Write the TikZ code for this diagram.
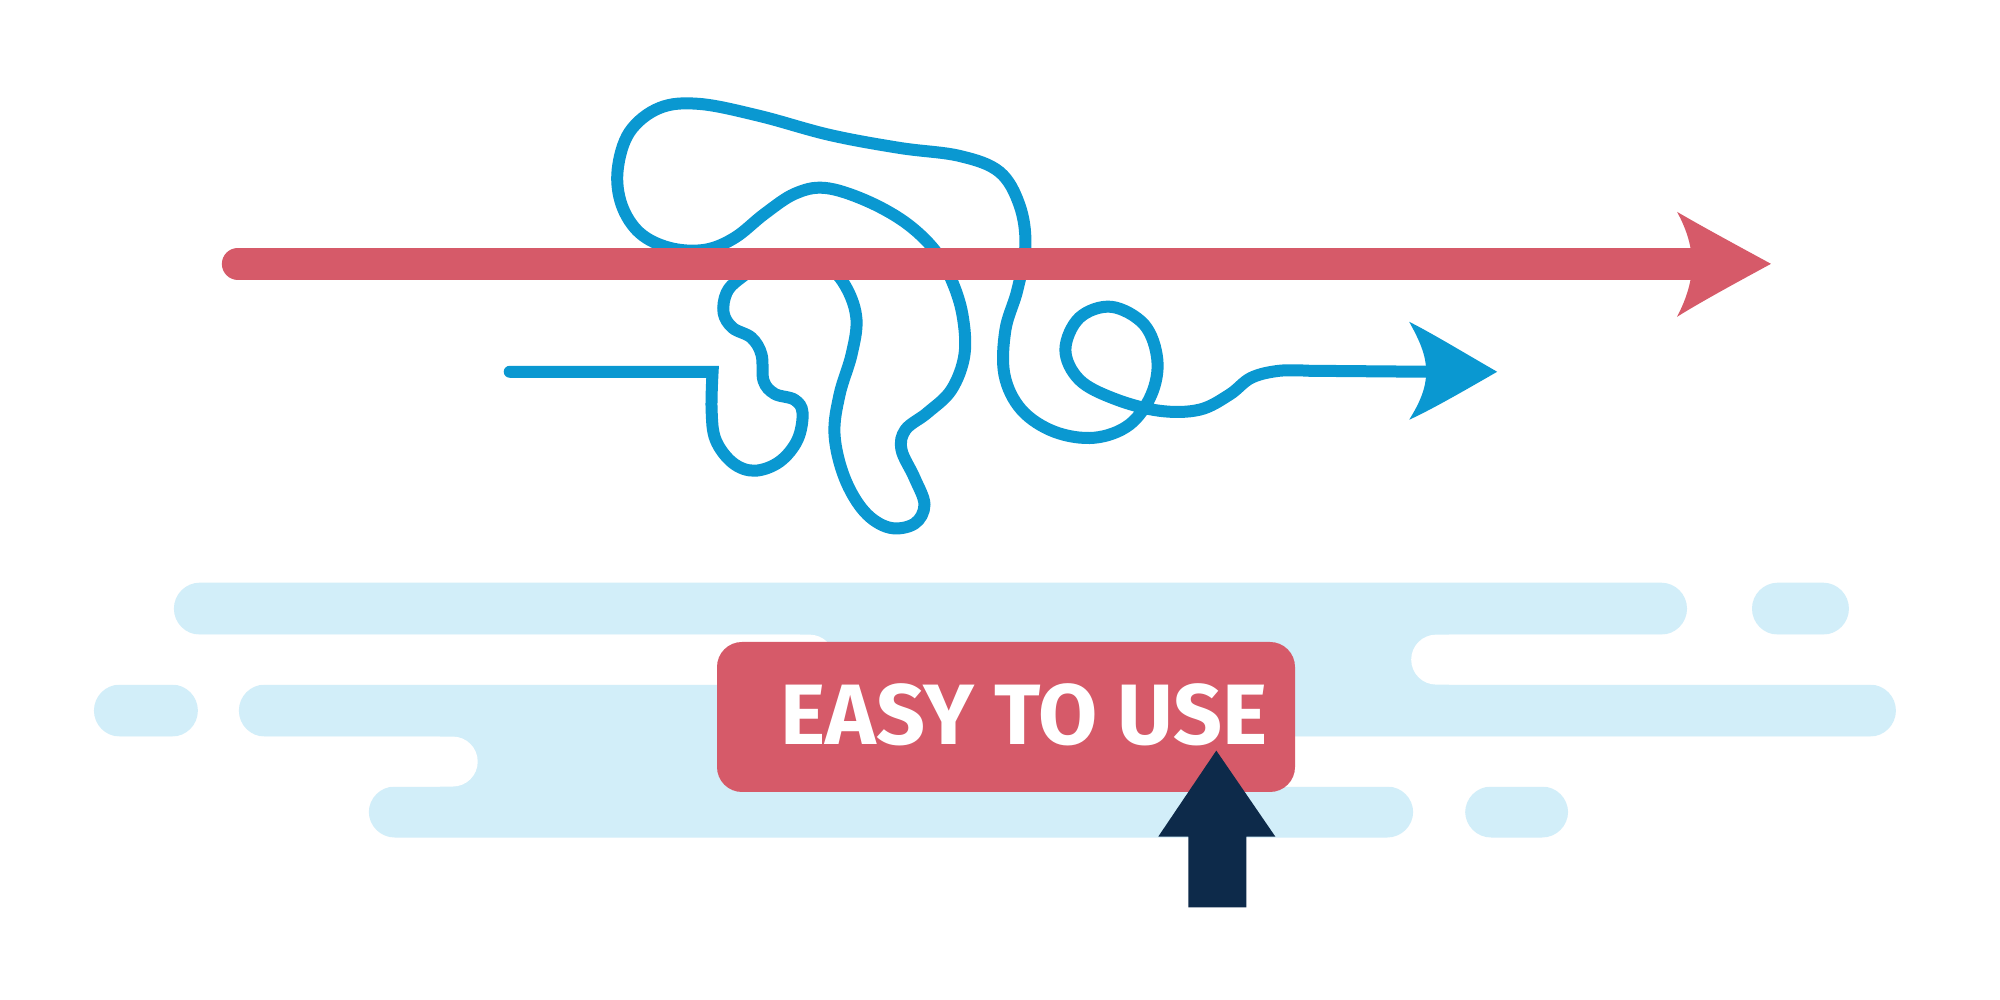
\documentclass[tikz,border=0pt]{standalone}
\usepackage{fontspec}
\setmainfont{Fira Sans}
\definecolor{redc}{HTML}{D65A69}
\definecolor{bluec}{HTML}{0A98D1}
\definecolor{lightc}{HTML}{D2EEF9}
\definecolor{navyc}{HTML}{0D2A4A}
\tikzset{
  band/.style={fill=lightc, draw=none, rounded corners=0.26cm},
  gap/.style={fill=white, draw=none, rounded corners=0.25cm},
  squiggle/.style={draw=bluec, line width=0.12cm, line cap=round, line join=miter},
  redline/.style={draw=redc, line width=0.32cm, line cap=round},
  button/.style={fill=redc, draw=none, rounded corners=0.25cm, minimum width=5.78cm, minimum height=1.5cm, inner sep=0pt},
  label/.style={text=white, inner sep=0pt, font=\bfseries\fontsize{24.4}{29}\selectfont},
  px/.style={x=0.01cm, y=-0.01cm},
}
\begin{document}
\begin{tikzpicture}
\useasboundingbox (0,0) rectangle (20,-10);
\fill[white] (0,0) rectangle (20,-10);

\begin{scope}[px]
% light blue background bands
\fill[lightc] (800,609) rectangle (1450,711);
\fill[lightc] (440,711) rectangle (1200,812);
\fill[band] (174,583) rectangle (1688,635);
\fill[band] (1753,583) rectangle (1850,635);
\fill[band] (94,685) rectangle (198,737);
\fill[band] (239,685) rectangle (1897,737);
\fill[band] (369,787) rectangle (1414,838);
\fill[band] (1466,787) rectangle (1569,838);
% white gaps between bands
\fill[gap] (-100,635) rectangle (835,685);
\fill[gap] (1412,635) rectangle (2100,685);
\fill[gap] (-100,737) rectangle (478,787);
\fill[gap] (1150,737) rectangle (2100,787);
\end{scope}

% button
\node[button] (btn) at (10.06,-7.17) {};
\node[label] (btntext) at (10.24,-7.15) {EASY TO USE};

\begin{scope}[px]
% navy arrow
\coordinate (ntip) at (1217,751);
\fill[navyc] (ntip) -- (1276,837) -- (1247,837) -- (1247,908) -- (1189,908) -- (1189,837) -- (1159,837) -- cycle;

% blue squiggle
\coordinate (bstart) at (510,372);
\coordinate (bend) at (1430,372);
\coordinate (btip) at (1498,372);
\draw[squiggle] (bstart) -- plot[smooth, tension=0.6] coordinates {
(713,372) (712,410) (716,440) (733,463) (755,471) (780,462) (798,440) (803,413)
(795,400) (775,394) (764,381) (762,355) (752,338) (733,328) (724,313) (727,293)
(740,279) (770,260) (800,258) (830,268) (848,290) (857,320) (852,355) (840,395)
(835,435) (845,478) (865,512) (890,528) (915,524) (925,505) (915,478) (902,450)
(906,430) (928,413) (952,390) (965,355) (963,315) (952,280) (935,250) (905,222)
(865,200) (825,188) (795,194) (765,214) (735,238) (705,250) (670,248) (640,233)
(622,205) (618,170) (630,132) (660,108) (700,104) (760,116) (830,135) (900,148)
(960,156) (1000,172) (1020,205) (1026,245) (1018,290) (1006,330) (1005,375) (1022,410)
(1055,432) (1095,438) (1130,425) (1152,395) (1158,360) (1145,325) (1112,307) (1080,318)
(1066,350) (1080,380) (1115,399) (1160,411) (1200,410) (1230,395) (1252,378) (1280,371)
(1310,371)} -- (bend);
\fill[bluec] (btip) .. controls (1465,353) and (1432,333) .. (1410,322)
  .. controls (1420,340) and (1427,355) .. (1427,372)
  .. controls (1427,389) and (1420,404) .. (1410,420)
  .. controls (1432,410) and (1465,391) .. (btip) -- cycle;

% red arrow
\coordinate (rstart) at (238,264);
\coordinate (rend) at (1700,264);
\coordinate (rtip) at (1772,264);
\draw[redline] (rstart) -- (rend);
\fill[redc] (rtip) .. controls (1737,245) and (1702,226) .. (1678,212)
  .. controls (1688,230) and (1693,248) .. (1693,264)
  .. controls (1693,280) and (1688,298) .. (1678,317)
  .. controls (1702,302) and (1737,283) .. (rtip) -- cycle;
\end{scope}
\end{tikzpicture}
\end{document}
